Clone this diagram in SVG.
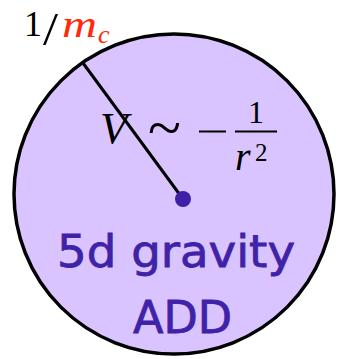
<svg xmlns="http://www.w3.org/2000/svg" width="345" height="359" viewBox="0 0 345 359">
<style>
.math{font-family:"Liberation Serif","DejaVu Serif",serif;fill:#000}
.it{font-style:italic}
.red{fill:#ff2a0a}
.lbl{font-family:"DejaVu Sans","Liberation Sans",sans-serif;fill:#3f22a8;stroke:#3f22a8;stroke-width:0.8;font-size:44px}
</style>
<rect width="345" height="359" fill="#fff"/>
<g id="bulk">
<circle cx="174" cy="194" r="160" fill="#dac4ff" stroke="#000" stroke-width="3.5"/>
</g>
<g id="connectors">
<line x1="83" y1="63" x2="183" y2="199" stroke="#000" stroke-width="3"/>
</g>
<g id="center">
<circle cx="183" cy="199" r="8" fill="#3d1fa8"/>
</g>
<g id="scale-label">
<text class="math" x="24" y="36" font-size="36" textLength="18" lengthAdjust="spacingAndGlyphs">1</text>
<text class="math" x="43" y="45" font-size="47" textLength="15" lengthAdjust="spacingAndGlyphs">/</text>
<text class="math it red" x="62" y="37" font-size="37" textLength="35" lengthAdjust="spacingAndGlyphs">m</text>
<text class="math it red" x="98" y="43" font-size="26">c</text>
</g>
<g id="potential">
<text class="math it" x="100" y="143" font-size="45">V</text>
<text class="math" x="148" y="148" font-size="62" textLength="33" lengthAdjust="spacingAndGlyphs">~</text>
<line x1="199" y1="131.5" x2="226" y2="131.5" stroke="#000" stroke-width="2"/>
<text class="math" x="248" y="123" font-size="32">1</text>
<line x1="235" y1="131.5" x2="277" y2="131.5" stroke="#000" stroke-width="2"/>
<text class="math it" x="235" y="170" font-size="40">r</text>
<text class="math" x="255" y="161" font-size="25">2</text>
</g>
<g id="label">
<text class="lbl" x="57" y="267" textLength="238" lengthAdjust="spacingAndGlyphs">5d gravity</text>
<text class="lbl" x="133" y="333" textLength="99" lengthAdjust="spacingAndGlyphs">ADD</text>
</g>
</svg>
